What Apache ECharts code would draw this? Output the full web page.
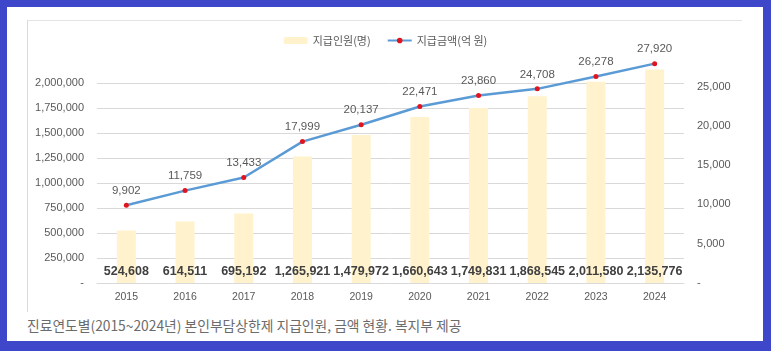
<!DOCTYPE html>
<html>
<head>
<meta charset="utf-8">
<script src="https://cdn.jsdelivr.net/npm/echarts@6/dist/echarts.min.js"></script>
<style>
  html, body { margin: 0; padding: 0; }
  body { width: 771px; height: 351px; background: #3e47c9; position: relative; overflow: hidden; }
  .paper { position: absolute; left: 7px; top: 7px; width: 756px; height: 334px; background: #fff; }
  .box { position: absolute; left: 27px; top: 20px; width: 714px; height: 291px;
         border-left: 1px solid #dadada; border-top: 1px solid #e4e4e4; }
  .caption { position: absolute; left: 27px; top: 315px; font-size: 13.8px; color: #6b6b6b;
             font-family: 'Noto Sans CJK KR', sans-serif; white-space: nowrap; }
  #chart { position: absolute; left: 0; top: 0; width: 771px; height: 351px; }
</style>
</head>
<body>
<div class="paper"></div>
<div class="box"></div>
<div class="caption">진료연도별(2015~2024년) 본인부담상한제 지급인원, 금액 현황. 복지부 제공</div>
<div id="chart"></div>
<script>
// 진료연도
const years = ['2015', '2016', '2017', '2018', '2019', '2020', '2021', '2022', '2023', '2024']
// 지급인원(명)
const people = [524608, 614511, 695192, 1265921, 1479972, 1660643, 1749831, 1868545, 2011580, 2135776]
// 지급금액(억 원)
const amount = [9902, 11759, 13433, 17999, 20137, 22471, 23860, 24708, 26278, 27920]

const numFont = "'Liberation Sans', sans-serif"
const krFont = "'Noto Sans CJK KR', sans-serif"

function fmt(v) {
  if (v === 0) return '-'
  return v.toLocaleString('en-US')
}

const chart = echarts.init(document.getElementById('chart'))

chart.setOption({
  animation: false,
  grid: {
    left: 97,
    right: 87,
    top: 63,
    bottom: 68
  },
  legend: {
    top: 30,
    left: 'center',
    itemWidth: 24,
    itemHeight: 7,
    itemGap: 16,
    textStyle: { color: '#595959', fontSize: 11, fontFamily: krFont },
    data: ['지급인원(명)', '지급금액(억 원)']
  },
  xAxis: {
    type: 'category',
    data: years,
    axisTick: { show: false },
    axisLine: { lineStyle: { color: '#d9d9d9' } },
    axisLabel: { color: '#595959', fontSize: 10.5, margin: 9, fontFamily: numFont }
  },
  yAxis: [
    {
      type: 'value',
      min: 0,
      max: 2200000,
      interval: 250000,
      axisLine: { show: false },
      axisTick: { show: false },
      axisLabel: {
        color: '#595959', fontSize: 11, margin: 13, fontFamily: numFont,
        showMaxLabel: false,
        formatter: fmt
      },
      splitLine: {
        showMaxLine: false,
        lineStyle: { color: '#d9d9d9' }
      }
    },
    {
      type: 'value',
      min: 0,
      max: 28000,
      interval: 5000,
      axisLine: { show: false },
      axisTick: { show: false },
      splitLine: { show: false },
      axisLabel: {
        color: '#595959', fontSize: 11, margin: 13, fontFamily: numFont,
        showMaxLabel: false,
        formatter: fmt
      }
    }
  ],
  series: [
    {
      name: '지급인원(명)',
      type: 'bar',
      yAxisIndex: 0,
      barWidth: 19,
      data: people,
      itemStyle: { color: '#fff2cc' },
      label: {
        show: true,
        position: 'insideBottom',
        distance: 5,
        color: '#404040',
        fontSize: 12.5,
        fontWeight: 'bold',
        fontFamily: numFont,
        formatter: p => fmt(p.value)
      }
    },
    {
      name: '지급금액(억 원)',
      type: 'line',
      yAxisIndex: 1,
      data: amount,
      symbol: 'circle',
      symbolSize: 5,
      lineStyle: { color: '#5b9bd5', width: 2.5 },
      itemStyle: { color: '#e0141e' },
      label: {
        show: true,
        position: 'top',
        distance: 6,
        color: '#595959',
        fontSize: 11.5,
        fontFamily: numFont,
        formatter: p => fmt(p.value)
      },
      z: 5
    }
  ]
})
</script>
</body>
</html>
